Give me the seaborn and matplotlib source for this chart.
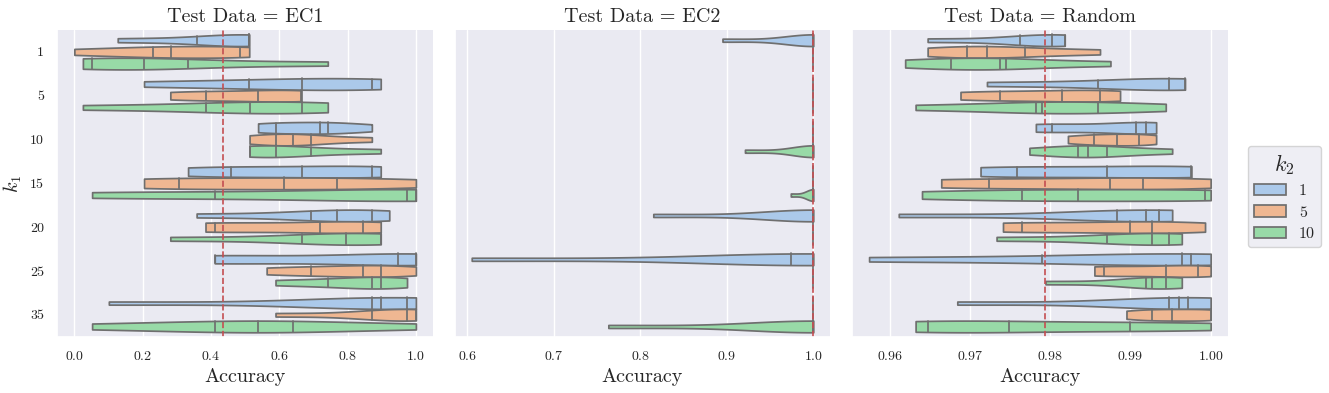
import numpy as np
import pandas as pd
import matplotlib
matplotlib.use("Agg")
import matplotlib.pyplot as plt
from matplotlib.ticker import MultipleLocator
import seaborn as sns

sns.set_theme(style="darkgrid")
plt.rcParams["font.family"] = "serif"
plt.rcParams["font.serif"] = ["cmr10", "DejaVu Serif"]
plt.rcParams["mathtext.fontset"] = "cm"
plt.rcParams["axes.unicode_minus"] = False
plt.rcParams["axes.formatter.use_mathtext"] = True

k1_values = [1, 5, 10, 15, 20, 25, 35]
k2_values = [1, 5, 10]
test_sets = ["EC1", "EC2", "Random"]

# accuracy of the 5 runs, one row per k1
ec1_k2_1 = [[0.127, 0.358, 0.512, 0.512, 0.512],
            [0.204, 0.512, 0.666, 0.871, 0.897],
            [0.538, 0.589, 0.718, 0.744, 0.871],
            [0.333, 0.460, 0.666, 0.871, 0.897],
            [0.358, 0.692, 0.770, 0.871, 0.922],
            [0.411, 0.411, 0.947, 1.000, 1.000],
            [0.101, 0.871, 0.897, 0.974, 1.000]]
ec1_k2_5 = [[0.000, 0.230, 0.282, 0.486, 0.512],
            [0.281, 0.384, 0.538, 0.665, 0.665],
            [0.513, 0.589, 0.641, 0.692, 0.871],
            [0.204, 0.307, 0.615, 0.770, 1.000],
            [0.384, 0.411, 0.718, 0.845, 0.897],
            [0.563, 0.692, 0.845, 0.897, 1.000],
            [0.589, 0.871, 0.974, 1.000, 1.000]]
ec1_k2_10 = [[0.025, 0.052, 0.204, 0.334, 0.742],
             [0.025, 0.384, 0.513, 0.666, 0.742],
             [0.513, 0.513, 0.589, 0.692, 0.897],
             [0.052, 0.411, 0.974, 1.000, 1.000],
             [0.281, 0.666, 0.795, 0.897, 0.897],
             [0.589, 0.744, 0.871, 0.897, 0.974],
             [0.052, 0.411, 0.538, 0.641, 1.000]]

ec2_k2_1 = [[0.895, 1.0, 1.0, 1.0, 1.0],
            [1.0, 1.0, 1.0, 1.0, 1.0],
            [1.0, 1.0, 1.0, 1.0, 1.0],
            [1.0, 1.0, 1.0, 1.0, 1.0],
            [0.815, 1.0, 1.0, 1.0, 1.0],
            [0.605, 0.974, 1.0, 1.0, 1.0],
            [1.0, 1.0, 1.0, 1.0, 1.0]]
ec2_k2_5 = [[1.0, 1.0, 1.0, 1.0, 1.0]] * 7
ec2_k2_10 = [[1.0, 1.0, 1.0, 1.0, 1.0],
             [1.0, 1.0, 1.0, 1.0, 1.0],
             [0.921, 1.0, 1.0, 1.0, 1.0],
             [0.974, 1.0, 1.0, 1.0, 1.0],
             [1.0, 1.0, 1.0, 1.0, 1.0],
             [1.0, 1.0, 1.0, 1.0, 1.0],
             [0.763, 1.0, 1.0, 1.0, 1.0]]

rnd_k2_1 = [[0.9647, 0.9762, 0.9802, 0.9818, 0.9818],
            [0.9721, 0.9859, 0.9948, 0.9968, 0.9968],
            [0.9782, 0.9802, 0.9907, 0.9919, 0.9932],
            [0.9713, 0.9758, 0.9871, 0.9976, 0.9976],
            [0.9611, 0.9883, 0.9919, 0.9936, 0.9952],
            [0.9574, 0.9790, 0.9964, 0.9976, 1.0000],
            [0.9684, 0.9948, 0.9960, 0.9972, 1.0000]]
rnd_k2_5 = [[0.9647, 0.9696, 0.9721, 0.9769, 0.9862],
            [0.9688, 0.9737, 0.9814, 0.9862, 0.9887],
            [0.9822, 0.9855, 0.9883, 0.9911, 0.9932],
            [0.9664, 0.9724, 0.9875, 0.9915, 1.0000],
            [0.9741, 0.9765, 0.9899, 0.9927, 0.9993],
            [0.9855, 0.9867, 0.9944, 0.9984, 1.0000],
            [0.9895, 0.9927, 0.9952, 1.0000, 1.0000]]
rnd_k2_10 = [[0.9619, 0.9676, 0.9737, 0.9745, 0.9875],
             [0.9632, 0.9782, 0.9790, 0.9859, 0.9944],
             [0.9774, 0.9834, 0.9847, 0.9871, 0.9952],
             [0.9640, 0.9765, 0.9834, 0.9993, 1.0000],
             [0.9733, 0.9871, 0.9927, 0.9948, 0.9964],
             [0.9794, 0.9919, 0.9927, 0.9944, 0.9964],
             [0.9632, 0.9648, 0.9749, 0.9899, 1.0000]]

# reference accuracy (dashed red line)
baselines = [0.436, 1.0, 0.9794]

runs = {
    "EC1": [ec1_k2_1, ec1_k2_5, ec1_k2_10],
    "EC2": [ec2_k2_1, ec2_k2_5, ec2_k2_10],
    "Random": [rnd_k2_1, rnd_k2_5, rnd_k2_10],
}

rows = []
for test in test_sets:
    for k2, table in zip(k2_values, runs[test]):
        for k1, accs in zip(k1_values, table):
            for a in accs:
                rows.append({"Test Data": test, "$k_1$": str(k1),
                             "$k_2$": str(k2), "Accuracy": a})
df = pd.DataFrame(rows)

g = sns.catplot(data=df, x="Accuracy", y="$k_1$", hue="$k_2$", col="Test Data",
                kind="violin", orient="h", cut=0, inner="quart",
                density_norm="width", palette="pastel", sharex=False,
                order=[str(k) for k in k1_values],
                hue_order=[str(k) for k in k2_values],
                height=3.93, aspect=1.0)

g.set_titles("{col_var} = {col_name}", size=14.5)
g.set_axis_labels("Accuracy", "$k_1$", fontsize=14.5)
for ax, b in zip(g.axes.flat, baselines):
    # quartile lines drawn solid
    for line in ax.lines:
        line.set_linestyle("-")
    ax.axvline(b, color="C3", linestyle="--", linewidth=1.2)
    ax.tick_params(labelsize=10)
g.axes.flat[1].xaxis.set_major_locator(MultipleLocator(0.1))

g.figure.set_size_inches(13.29, 3.93)
g.figure.subplots_adjust(left=0.0431, right=0.9238, bottom=0.1433,
                         top=0.9237, wspace=0.0577)
sns.move_legend(g, "center left", bbox_to_anchor=(0.933, 0.5), frameon=True,
                title="$k_2$", fontsize=11.5, title_fontsize=16,
                labelspacing=0.45)

plt.savefig("out.png", dpi=100)
